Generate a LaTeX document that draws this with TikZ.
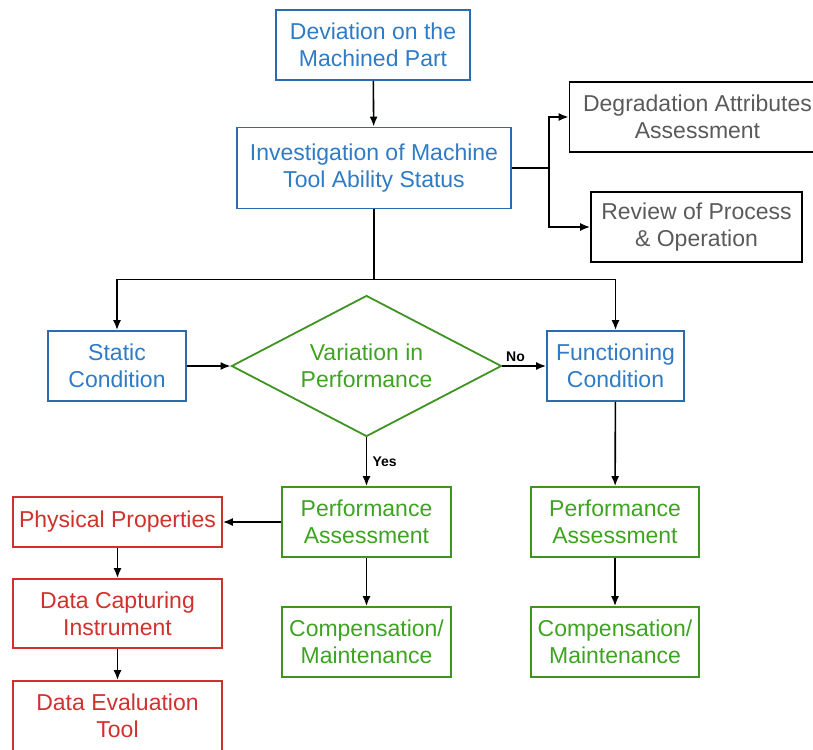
\documentclass[tikz,border=0pt]{standalone}
\usepackage{fontspec}
\setmainfont{Liberation Sans}
\usetikzlibrary{shapes.geometric,arrows.meta}
\definecolor{cblue}{HTML}{2B6CB0}
\definecolor{tblue}{HTML}{2E7BC6}
\definecolor{cgreen}{HTML}{3F9321}
\definecolor{tgreen}{HTML}{3FA322}
\definecolor{cred}{HTML}{D0312D}
\definecolor{tgray}{HTML}{5A5A5A}
\tikzset{
  box/.style={draw, line width=1.8pt, inner sep=0pt, align=center,
    font=\fontsize{23}{27}\selectfont},
  bluebox/.style={box, draw=cblue, text=tblue},
  greenbox/.style={box, draw=cgreen, text=tgreen},
  redbox/.style={box, draw=cred, text=cred},
  graybox/.style={box, draw=black, text=tgray},
  arr/.style={-{Latex[length=10pt,width=8pt]}, line width=1.6pt},
  ln/.style={line width=1.6pt},
  lbl/.style={font=\fontsize{14}{16}\selectfont\bfseries}
}
\begin{document}
\begin{tikzpicture}[x=1pt,y=-1pt]
\useasboundingbox (0,0) rectangle (813,749);
\node[bluebox, minimum width=194pt, minimum height=70pt] (dev) at (373,45) {Deviation on the\\Machined Part};
\node[bluebox, minimum width=274pt, minimum height=81pt] (inv) at (374,168) {Investigation of Machine\\Tool Ability Status};
\node[graybox, minimum width=256pt, minimum height=70pt] (deg) at (697.5,117) {Degradation Attributes\\Assessment};
\node[graybox, minimum width=211pt, minimum height=70pt] (rev) at (696.5,227) {Review of Process\\\& Operation};
\node[bluebox, minimum width=138pt, minimum height=70pt] (sta) at (117,366) {Static\\Condition};
\node[diamond, draw=cgreen, line width=1.8pt, text=tgreen, aspect=2, inner sep=0pt,
  minimum width=270pt, minimum height=141pt, align=center,
  font=\fontsize{23}{27}\selectfont] (dia) at (366.5,366) {Variation in\\Performance};
\node[bluebox, minimum width=137pt, minimum height=70pt] (fun) at (615.5,366) {Functioning\\Condition};
\node[greenbox, minimum width=169pt, minimum height=70pt] (pa1) at (366.5,522) {Performance\\Assessment};
\node[greenbox, minimum width=169pt, minimum height=70pt] (cm1) at (366.5,642) {Compensation/\\Maintenance};
\node[greenbox, minimum width=168pt, minimum height=70pt] (pa2) at (615,522) {Performance\\Assessment};
\node[greenbox, minimum width=168pt, minimum height=70pt] (cm2) at (615,642) {Compensation/\\Maintenance};
\node[redbox, minimum width=209pt, minimum height=50pt] (pp) at (117.5,522) {Physical Properties};
\node[redbox, minimum width=209pt, minimum height=69pt] (dc) at (117.5,613.5) {Data Capturing\\Instrument};
\node[redbox, minimum width=209pt, minimum height=70pt] (de) at (117.5,716) {Data Evaluation\\Tool};
% connectors
\draw[arr] (dev) -- (inv);
\draw[ln] (inv.east) -- ++(37,0) coordinate (j1);
\draw[arr] (j1) |- (deg);
\draw[arr] (j1) |- (rev);
\draw[ln] (inv.south) -- ++(0,70) coordinate (j2);
\draw[arr] (j2) -| (sta);
\draw[arr] (j2) -| (fun);
\draw[arr] (sta) -- (dia);
\draw[arr] (dia) -- node[lbl, above, pos=0.3] {No} (fun);
\draw[arr] (dia) -- node[lbl, right, pos=0.5, xshift=2pt] {Yes} (pa1);
\draw[arr] (fun) -- (pa2);
\draw[arr] (pa1) -- (cm1);
\draw[arr] (pa2) -- (cm2);
\draw[arr] (pa1) -- (pp);
\draw[arr] (pp) -- (dc);
\draw[arr] (dc) -- (de);
\end{tikzpicture}
\end{document}
